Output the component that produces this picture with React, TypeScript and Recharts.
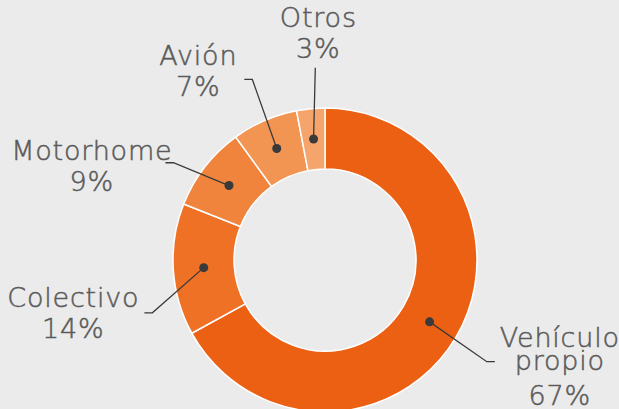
import React from 'react';
import { PieChart, Pie, Cell } from 'recharts';

const categories = ['Vehículo propio', 'Colectivo', 'Motorhome', 'Avión', 'Otros'];
const shares = [67, 14, 9, 7, 3];
const colors = ['#EC6014', '#EE7126', '#F0843C', '#F29552', '#F5A46C'];

// small hand tweaks for label placement, Excel style "best fit"
const elbowNudge = [[0, 6], [15, 41], [-3, 18], [2, -8], [8, -5]];
const textNudge = [[0, 4], [0, 0], [12, 3], [-2, -9], [3, 0]];

const FONT = '"DejaVu Sans", sans-serif';
const FONT_SIZE = 27;
const LETTER = 0.8;
const TEXT_COLOR = '#5a5a5a';
const LINE_COLOR = '#3a3a3a';

let ctx: CanvasRenderingContext2D | null = null;
function textWidth(s: string) {
  if (!ctx) ctx = document.createElement('canvas').getContext('2d');
  if (!ctx) return s.length * FONT_SIZE * 0.6;
  ctx.font = `300 ${FONT_SIZE}px ${FONT}`;
  return ctx.measureText(s).width + LETTER * s.length;
}

const data = categories.map((name, i) => ({ name, value: shares[i] }));

const renderLabel = (props: any) => {
  const { cx, cy, midAngle, innerRadius, outerRadius, percent, index, name } = props;
  const RAD = Math.PI / 180;
  const cos = Math.cos(-midAngle * RAD);
  const sin = Math.sin(-midAngle * RAD);
  const dotR = (innerRadius + outerRadius) / 2;
  const elbowR = outerRadius + 36;
  const px = cx + dotR * cos;
  const py = cy + dotR * sin;
  const ex = cx + elbowR * cos + elbowNudge[index][0];
  const ey = cy + elbowR * sin + elbowNudge[index][1];
  const nameLines = String(name).split(' ');
  const pct = `${Math.round(percent * 100)}%`;
  const lines = [...nameLines, pct];
  const [tdx, tdy] = textNudge[index];

  const ys: number[] = [];
  let y = 0;
  lines.forEach((_, i) => {
    if (i > 0) y += i === lines.length - 1 ? (lines.length > 2 ? 35 : 31) : 23;
    ys.push(y);
  });
  const span = y;

  const top = Math.abs(cos) < 0.2;
  let endX = ex;
  let centerX: number;
  let firstBase: number;
  if (top) {
    centerX = ex;
    firstBase = ey - 10 - span;
  } else {
    const dir = cos >= 0 ? 1 : -1;
    endX = ex + dir * 8;
    const maxW = Math.max(...lines.map(textWidth));
    centerX = endX + dir * (5 + maxW / 2);
    firstBase = ey + 10 - span / 2;
  }

  return (
    <g key={`lab-${index}`}>
      <polyline
        points={`${px},${py} ${ex},${ey} ${endX},${ey}`}
        fill="none"
        stroke={LINE_COLOR}
        strokeWidth={1.3}
      />
      <circle cx={px} cy={py} r={4.5} fill={LINE_COLOR} />
      <text
        textAnchor="middle"
        fill={TEXT_COLOR}
        stroke={TEXT_COLOR}
        strokeWidth={0.5}
        fontFamily={FONT}
        fontSize={FONT_SIZE}
        fontWeight={300}
        letterSpacing={LETTER}
      >
        {lines.map((l, i) => (
          <tspan key={i} x={centerX + tdx} y={firstBase + ys[i] + tdy}>
            {l}
          </tspan>
        ))}
      </text>
    </g>
  );
};

export default function App() {
  return (
    <div style={{ position: 'fixed', left: 0, top: 0, width: 619, height: 409, background: '#EBEBEB' }}>
      <PieChart width={619} height={409} margin={{ top: 0, right: 0, bottom: 0, left: 0 }}>
        <Pie
          data={data}
          dataKey="value"
          nameKey="name"
          cx={325}
          cy={260}
          innerRadius={91}
          outerRadius={152}
          startAngle={90}
          endAngle={-270}
          stroke="#ffffff"
          strokeWidth={1.5}
          labelLine={false}
          label={renderLabel}
          isAnimationActive={false}
        >
          {data.map((entry, i) => (
            <Cell key={entry.name} fill={colors[i]} />
          ))}
        </Pie>
      </PieChart>
    </div>
  );
}
